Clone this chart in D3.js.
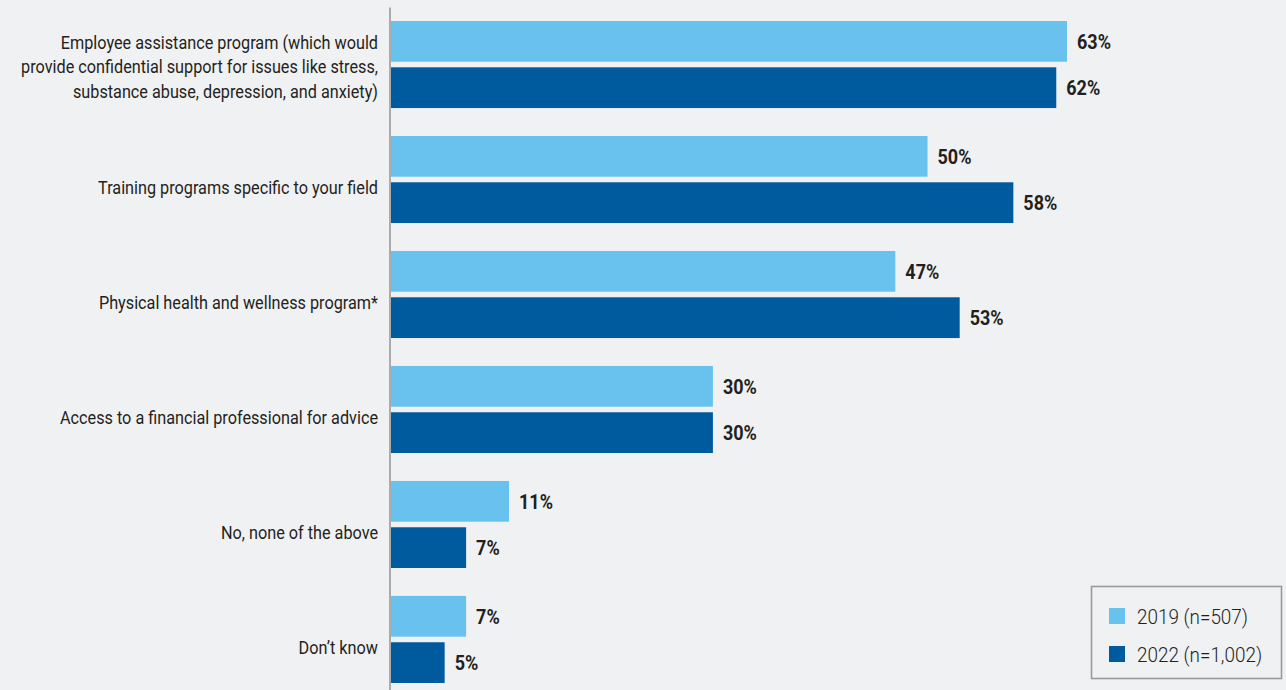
<!DOCTYPE html>
<html>
<head>
<meta charset="utf-8">
<script src="https://cdn.jsdelivr.net/npm/d3@7"></script>
<style>
  html, body { margin: 0; padding: 0; background: #f0f1f3; }
  svg { display: block; }
  text { font-family: Roboto, "Noto Sans", sans-serif; fill: #231f20; }
</style>
</head>
<body>
<svg id="chart" width="1286" height="690"></svg>
<script>
// Survey answers, one row per category
const categories = [
  ["Employee assistance program (which would", "provide confidential support for issues like stress,", "substance abuse, depression, and anxiety)"],
  ["Training programs specific to your field"],
  ["Physical health and wellness program*"],
  ["Access to a financial professional for advice"],
  ["No, none of the above"],
  ["Don\u2019t know"]
];
const seriesNames = ["2019 (n=507)", "2022 (n=1,002)"];
const values2019 = [63, 50, 47, 30, 11, 7];
const values2022 = [62, 58, 53, 30, 7, 5];
const colors = ["#69c2ee", "#005a9e"];

const svg = d3.select("#chart");
const W = 1286, H = 690;
const x0 = 391;

const x = d3.scaleLinear().domain([0, 63]).range([x0, 1067]);
const y = d3.scaleBand().domain(d3.range(categories.length)).range([21, 683]).paddingInner(0.243).paddingOuter(0);
const ySub = d3.scaleBand().domain([0, 1]).range([0, y.bandwidth()]).padding(0.12).paddingOuter(0);

const rows = categories.map((c, i) => ({ i, lines: c, vals: [values2019[i], values2022[i]] }));

const g = svg.selectAll("g.row").data(rows).join("g")
  .attr("class", "row")
  .attr("transform", d => `translate(0,${y(d.i)})`);

g.selectAll("rect").data(d => d.vals.map((v, s) => ({ v, s }))).join("rect")
  .attr("x", x(0))
  .attr("y", d => ySub(d.s))
  .attr("width", d => x(d.v) - x(0))
  .attr("height", ySub.bandwidth())
  .attr("fill", d => colors[d.s]);

// value labels
g.selectAll("text.val").data(d => d.vals.map((v, s) => ({ v, s }))).join("text")
  .attr("class", "val")
  .attr("transform", d => `translate(${x(d.v) + 10},${ySub(d.s) + ySub.bandwidth() / 2}) scale(0.9,1)`)
  .attr("dy", "0.36em")
  .style("font-size", "20px")
  .style("font-weight", "700")
  .text(d => d.v + "%");

// category labels
const lineH = 24.5;
g.append("text")
  .attr("class", "cat")
  .attr("text-anchor", "end")
  .attr("transform", d => {
    const n = d.lines.length;
    const cy = y.bandwidth() / 2 + (n > 1 ? 2 : 8) - (n - 1) * lineH / 2;
    return `translate(${x0 - 13},${cy}) scale(0.855,1)`;
  })
  .style("font-size", "19px")
  .selectAll("tspan").data(d => d.lines).join("tspan")
  .attr("x", 0)
  .attr("y", (d, i) => i * lineH)
  .attr("dy", "0.36em")
  .text(d => d);

// vertical axis line
const axis = d3.axisLeft(d3.scaleLinear().range([7, H])).ticks(0).tickSize(0);
svg.append("g")
  .attr("transform", `translate(${x0 - 1.5},0)`)
  .call(axis)
  .call(a => a.select(".domain").attr("stroke", "#9a9a9a").attr("stroke-width", 1.6))
  .call(a => a.selectAll("text").remove());

// legend
const leg = svg.append("g");
leg.append("rect")
  .attr("x", 1091.5).attr("y", 586.5).attr("width", 190).attr("height", 92)
  .attr("fill", "none").attr("stroke", "#9a9b9e").attr("stroke-width", 1.6);
const li = leg.selectAll("g.li").data(seriesNames).join("g")
  .attr("class", "li")
  .attr("transform", (d, i) => `translate(1109,${608 + i * 38})`);
li.append("rect").attr("width", 16).attr("height", 16).attr("fill", (d, i) => colors[i]);
li.append("text")
  .attr("transform", `translate(28,8) scale(0.9,1)`)
  .attr("dy", "0.36em")
  .style("font-size", "21px")
  .style("font-weight", "300")
  .text(d => d);
</script>
</body>
</html>
